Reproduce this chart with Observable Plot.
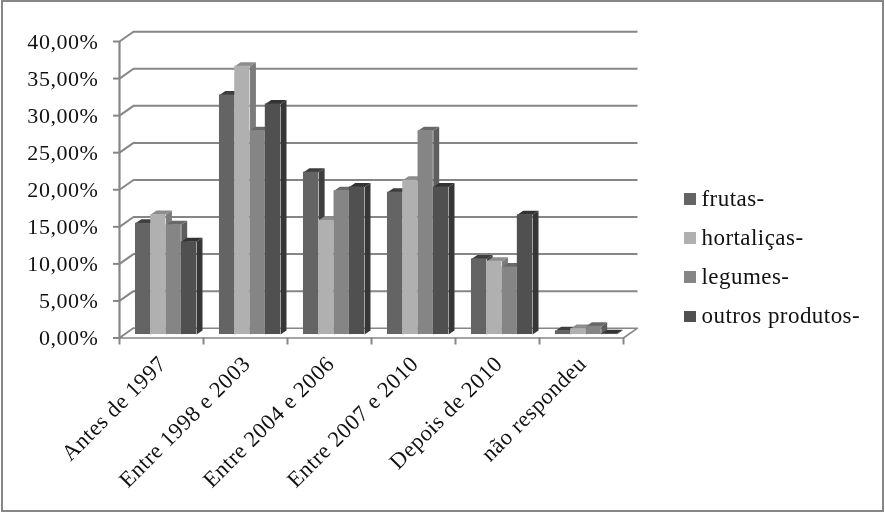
<!DOCTYPE html>
<html>
<head>
<meta charset="utf-8">
<script src="https://cdn.jsdelivr.net/npm/d3@7"></script>
<script src="https://cdn.jsdelivr.net/npm/@observablehq/plot@0.6"></script>
<style>
  html, body { margin: 0; padding: 0; background: #fff; }
  #chart { position: relative; width: 885px; height: 513px; box-sizing: border-box; overflow: hidden; }
  #chart svg { position: absolute; left: 0; top: 0; filter: blur(0.4px); }
  #chart svg text { letter-spacing: 0.55px; }
  #frame { position: absolute; left: 1px; top: 0; width: 883px; height: 512px; box-sizing: border-box; border: 2.5px solid #868686; }
  #legend { position: absolute; left: 684px; top: 179.5px; font: 23px "Liberation Serif", serif; letter-spacing: 0.45px; color: #111; filter: blur(0.3px); }
  #legend div { display: flex; align-items: center; height: 39.1px; white-space: nowrap; }
  #legend i { width: 11.5px; height: 11.5px; margin-right: 6px; display: block; }
</style>
</head>
<body>
<div id="chart"><div id="frame"></div></div>
<script>
const categories = ["Antes de 1997", "Entre 1998 e 2003", "Entre 2004 e 2006", "Entre 2007 e 2010", "Depois de 2010", "não respondeu"];
const seriesNames = ["frutas-", "hortaliças-", "legumes-", "outros produtos-"];
const frutas = [15.0, 32.3, 21.9, 19.2, 10.2, 0.5];
const hortalicas = [16.2, 36.2, 15.4, 20.8, 9.9, 0.8];
const legumes = [14.8, 27.5, 19.4, 27.5, 9.1, 1.1];
const outros = [12.5, 31.1, 19.9, 19.9, 16.15, 0.1];
const yTicks = [0, 5, 10, 15, 20, 25, 30, 35, 40];
const frontColors = ["#646464", "#b0b0b0", "#858585", "#505050"];
const topColors = ["#3e3e3e", "#8c8c8c", "#696969", "#333333"];
const sideColors = ["#3e3e3e", "#7b7b7b", "#5e5e5e", "#363636"];

const values = [frutas, hortalicas, legumes, outros];
// 3D geometry, in data units (slots on x, percent on y)
const wallDX = 1 / 6, wallDY = 1.32;
const barStart = 0.19, barW = 0.182, barDX = 0.07, barDY = 0.54, barBase = 0.47;
const gray = "#868686";
const serif = '"Liberation Serif", serif';

const bars = [];
categories.forEach((c, i) => values.forEach((s, k) => {
  const x1 = i + barStart + k * barW, x2 = x1 + barW, v = s[i] + barBase;
  bars.push({c, s: seriesNames[k], k, x1, x2, v});
}));

const poly = (id, fill, pts) => pts.map(([x, y]) => ({id, fill, x, y}));
const faces = bars.flatMap((b, n) => [
  ...poly("s" + n, sideColors[b.k], [[b.x2, barBase], [b.x2 + barDX, barBase + barDY], [b.x2 + barDX, b.v + barDY], [b.x2, b.v]]),
  ...poly("t" + n, topColors[b.k], [[b.x1, b.v], [b.x2, b.v], [b.x2 + barDX, b.v + barDY], [b.x1 + barDX, b.v + barDY]])
]);
const floor = poly("floor", "#ffffff", [[0, 0], [6, 0], [6 + wallDX, wallDY], [wallDX, wallDY], [0, 0]]);
const sideTicks = yTicks.flatMap(t => [{t, x: 0, y: t}, {t, x: wallDX, y: t + wallDY}]);

const fmt = d => d.toFixed(2).replace(".", ",") + "%";

const plot = Plot.plot({
  width: 885, height: 513,
  marginLeft: 119, marginRight: 262, marginTop: 41, marginBottom: 175.5,
  style: {background: "transparent", fontFamily: serif},
  x: {domain: [0, 6], axis: null},
  y: {domain: [0, 40], axis: null},
  color: {type: "identity"},
  marks: [
    // back wall grid
    Plot.link(yTicks.slice(1), {x1: () => wallDX, x2: () => 6 + wallDX, y1: d => d + wallDY, y2: d => d + wallDY, stroke: gray, strokeWidth: 2}),
    // side wall
    Plot.line(sideTicks, {x: "x", y: "y", z: "t", stroke: gray, strokeWidth: 2}),
    // floor
    Plot.line(floor, {x: "x", y: "y", z: "id", fill: "fill", stroke: gray, strokeWidth: 1.6}),
    // axes
    Plot.ruleX([0], {y1: 0, y2: 40, stroke: gray, strokeWidth: 2.2}),
    Plot.axisY({ticks: yTicks, tickFormat: fmt, tickSize: 6, tickPadding: 15, color: "#111", stroke: gray, strokeWidth: 2, fontSize: 22, label: null}),
    Plot.axisX({ticks: d3.range(0, 7), tickFormat: () => "", tickSize: 7, stroke: gray, strokeWidth: 2, label: null}),
    Plot.text(categories, {x: (d, i) => i + 0.5, y: () => 0, text: d => d, rotate: -45, textAnchor: "end", lineAnchor: "middle", dx: 1, dy: 22, fontSize: 22.5, fill: "#111"}),
    // 3D bar sides and tops, then fronts
    Plot.line(faces, {x: "x", y: "y", z: "id", fill: "fill", stroke: "none"}),
    Plot.rectY(bars, {x1: "x1", x2: "x2", y1: () => barBase, y2: "v", fill: d => frontColors[d.k]})
  ]
});
const host = document.getElementById("chart");
host.insertBefore(plot, host.firstChild);

const legend = document.createElement("div");
legend.id = "legend";
seriesNames.forEach((name, k) => {
  const row = document.createElement("div");
  const sw = document.createElement("i");
  sw.style.background = frontColors[k];
  row.appendChild(sw);
  row.appendChild(document.createTextNode(name));
  legend.appendChild(row);
});
host.appendChild(legend);
</script>
</body>
</html>
